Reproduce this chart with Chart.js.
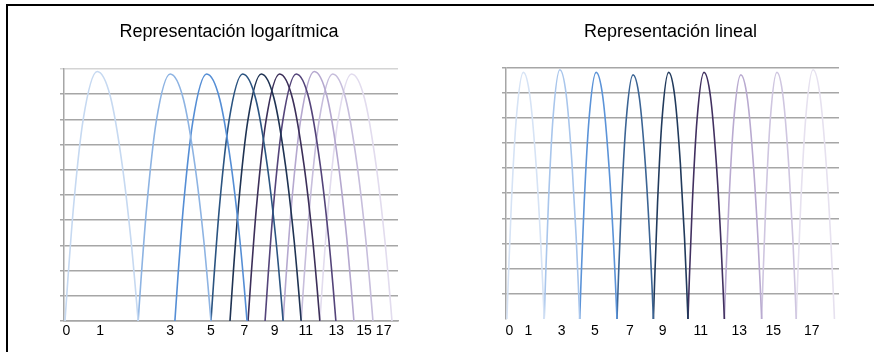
<!DOCTYPE html>
<html>
<head>
<meta charset="utf-8">
<script src="https://cdn.jsdelivr.net/npm/chart.js@4/dist/chart.umd.min.js"></script>
<style>
  html, body { margin: 0; padding: 0; background: #fff; }
  body { width: 874px; height: 352px; position: relative; overflow: hidden; }
  .frame { position: absolute; left: 6px; top: 4px; width: 874px; height: 360px;
           border-top: 2px solid #000; border-left: 2px solid #000; }
  canvas { position: absolute; top: 0; }
  #log-chart { left: 0; }
  #lin-chart { left: 440px; }
</style>
</head>
<body>
<div class="frame"></div>
<canvas id="log-chart"></canvas>
<canvas id="lin-chart"></canvas>
<script>
// ---- log panel: hump feet along the axis (0-100 across the plot) ----
const logStarts = [0.3, 22.2, 33.2, 44.0, 49.7, 55.1, 60.2, 65.6, 71.0, 76.6];
const logEnds = [22.2, 44.0, 54.8, 65.6, 71.0, 76.6, 81.4, 86.8, 92.5, 98.2];
const logPeaks = [9.9, 9.8, 9.8, 9.8, 9.8, 9.8, 9.8, 9.9, 9.8, 9.8];
const logTickPos = [0.7, 10.8, 31.8, 44.0, 54.0, 63.1, 72.4, 81.5, 89.8, 95.7];
const logTickLabels = ["0", "1", "3", "5", "7", "9", "11", "13", "15", "17"];
const logColors = ["#c6d9f1", "#8eb4e3", "#558ed5", "#2b5481", "#1f3353",
  "#3c2f59", "#54447a", "#b5a8cf", "#c7bedc", "#e2dcee"];

// ---- linear panel: consecutive bands, feet shared ----
const linFeet = [0.05, 2.1, 4.05, 6.1, 8.1, 10.0, 12.0, 14.05, 15.95, 18.05];
const linPeaks = [9.8, 9.9, 9.8, 9.7, 9.8, 9.8, 9.7, 9.8, 9.9];
const linTickPos = [0.18, 1.23, 3.06, 4.89, 6.81, 8.61, 10.71, 12.82, 14.69, 16.8];
const linTickLabels = ["0", "1", "3", "5", "7", "9", "11", "13", "15", "17"];
const linColors = ["#d6e3f5", "#a9c6ec", "#5b93d8", "#3b6494", "#213a5c",
  "#413060", "#b9aad0", "#cfc6e0", "#e6e1ef"];

// shape of one hump: height (share of peak) at fractions of its width
const humpShapeX = [0, 0.04, 0.12, 0.25, 0.44, 0.62, 0.78, 0.9, 0.96, 1];
const humpShapeY = [0, 0.17, 0.47, 0.81, 1, 0.9, 0.63, 0.33, 0.14, 0];

const FONT = "'Liberation Sans', Arial, sans-serif";

let humpPoints = (start, end, peak) =>
  humpShapeX.map((f, i) => ({ x: start + f * (end - start), y: peak * humpShapeY[i] }));

let makeHumpChart = (id, opts) => {
  const canvas = document.getElementById(id);
  canvas.setAttribute("width", opts.width);
  canvas.setAttribute("height", 352);

  const datasets = opts.starts.map((s, i) => ({
    data: humpPoints(s, opts.ends[i], opts.peaks[i]),
    borderColor: opts.colors[i],
    borderWidth: 1.6,
    pointRadius: 0,
    fill: false,
    cubicInterpolationMode: "monotone",
    clip: false,
  }));

  return new Chart(canvas.getContext("2d"), {
    type: "line",
    data: { datasets: datasets },
    options: {
      responsive: false,
      animation: false,
      events: [],
      layout: { padding: opts.padding },
      plugins: {
        legend: { display: false },
        tooltip: { enabled: false },
        title: {
          display: true,
          text: opts.title,
          color: "#000",
          font: { family: FONT, size: 18, weight: "normal" },
          padding: { top: 21, bottom: opts.titleGap },
        },
      },
      scales: {
        x: {
          type: "linear",
          min: 0,
          max: opts.xMax,
          grid: { display: false, drawTicks: false },
          border: { display: opts.showBase, color: "#a6a6a6", width: 1.5 },
          afterBuildTicks: (scale) => {
            scale.ticks = opts.tickPos.map((v) => ({ value: v }));
          },
          afterFit: (scale) => {
            scale.height = opts.axisHeight;
          },
          ticks: {
            autoSkip: false,
            maxRotation: 0,
            padding: opts.labelPad,
            color: "#000",
            font: { family: FONT, size: 14 },
            callback: (val, i) => opts.tickLabels[i],
          },
        },
        y: {
          min: 0,
          max: 10,
          afterFit: (scale) => {
            scale.width = 4;
          },
          ticks: { display: false, stepSize: 1 },
          grid: {
            tickLength: 4,
            lineWidth: 1.5,
            color: (ctx) => {
              if (ctx.tick.value === 0 && !opts.showBase) return "rgba(0,0,0,0)";
              if (ctx.tick.value === 10) return opts.topGrid;
              return "#a6a6a6";
            },
          },
          border: { color: "#a6a6a6", width: 1.5 },
        },
      },
    },
  });
};

makeHumpChart("log-chart", {
  width: 440,
  title: "Representación logarítmica",
  starts: logStarts,
  ends: logEnds,
  peaks: logPeaks,
  colors: logColors,
  tickPos: logTickPos,
  tickLabels: logTickLabels,
  xMax: 100,
  padding: { left: 60, right: 42, top: 0, bottom: 0 },
  titleGap: 26.4,
  axisHeight: 31,
  labelPad: 2,
  showBase: true,
  topGrid: "#d4d4d4",
});

makeHumpChart("lin-chart", {
  width: 434,
  title: "Representación lineal",
  starts: linFeet.slice(0, -1),
  ends: linFeet.slice(1),
  peaks: linPeaks,
  colors: linColors,
  tickPos: linTickPos,
  tickLabels: linTickLabels,
  xMax: 18.3,
  padding: { left: 62, right: 35, top: 0, bottom: 0 },
  titleGap: 24.7,
  axisHeight: 33,
  labelPad: 4,
  showBase: false,
  topGrid: "#a6a6a6",
});
</script>
</body>
</html>
